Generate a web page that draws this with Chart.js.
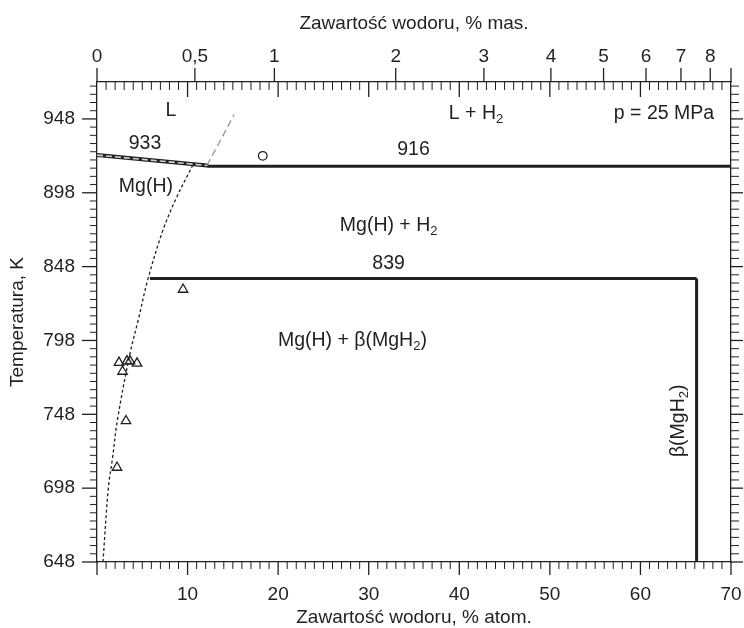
<!DOCTYPE html>
<html lang="pl">
<head>
<meta charset="utf-8">
<title>Układ Mg-H</title>
<style>
  body { margin: 0; background: #fff; }
  #wrap { width: 744px; height: 628px; position: relative; }
</style>
</head>
<body>
<div id="wrap"><canvas id="phaseChart"></canvas></div>
<script src="https://cdn.jsdelivr.net/npm/chart.js"></script>
<script>
// tick labels
const tempTicks = [648, 698, 748, 798, 848, 898, 948];
const atomTicks = [0, 10, 20, 30, 40, 50, 60, 70];
const massTicks = [0, 0.5, 1, 2, 3, 4, 5, 6, 7, 8];
const massLabels = ['0', '0,5', '1', '2', '3', '4', '5', '6', '7', '8'];

// phase boundaries (x = % atom. H, y = K)
const liqX = [0, 12.15];
const liqT = [923.5, 916.5];
const gasX = [12.15, 15.15];
const gasT = [916.5, 951];
const eut916X = [12.15, 70];
const eut916T = [916, 916];
const eut839X = [5.85, 66.2];
const eut839T = [840, 840];
const hydX = [66.2, 66.2];
const hydT = [840, 648];
const solvusX = [0.66, 1.25, 1.73, 2.25, 3.6, 4.56, 5.6, 7.3, 8.8, 10.1, 10.6];
const solvusT = [648, 698, 719, 744, 788, 812, 839, 873, 895, 911, 917];

// measured points
const triX = [2.43, 3.31, 3.64, 4.42, 2.82, 3.20, 2.21, 9.50];
const triT = [783, 784, 784, 782.5, 777, 743.5, 712, 832.5];
const circX = [18.3];
const circT = [923];

const regionLabels = [
  { text: 'L', x: 8.15, y: 953.5 },
  { text: '933', x: 5.3, y: 931.5 },
  { text: 'Mg(H)', x: 5.4, y: 902 },
  { text: 'L + H_2', x: 41.85, y: 951.8 },
  { text: 'p = 25 MPa', x: 62.6, y: 951.8 },
  { text: '916', x: 34.95, y: 927 },
  { text: 'Mg(H) + H_2', x: 32.2, y: 875.6 },
  { text: '839', x: 32.2, y: 850 },
  { text: 'Mg(H) + β(MgH_2)', x: 28.2, y: 797.8 },
  { text: 'β(MgH_2)', x: 64.2, y: 743.6, vertical: true }
];

const ink = '#231f20';
const fontFamily = '"Liberation Sans", Arial, Helvetica, sans-serif';

// % mas. -> % atom. (Mg 24.305, H 1.008)
function massToAtom(w) {
  const h = w / 1.008, m = (100 - w) / 24.305;
  return 100 * h / (h + m);
}

const pts = (xs, ys) => xs.map((v, i) => ({ x: v, y: ys[i] }));

function lineSet(xs, ys, opts) {
  return Object.assign({
    data: pts(xs, ys), showLine: true, pointRadius: 0, borderColor: ink,
    borderWidth: 3, xAxisID: 'x', yAxisID: 'y', tension: 0
  }, opts);
}

// draw "H_2" style text with subscripts, centred on (0,0)
function drawRich(ctx, str) {
  const parts = str.split(/_(\d)/);
  const big = '19.5px ' + fontFamily, small = '13px ' + fontFamily;
  let total = 0;
  parts.forEach((p, i) => { ctx.font = i % 2 ? small : big; total += ctx.measureText(p).width; });
  let cx = -total / 2;
  ctx.textAlign = 'left';
  ctx.textBaseline = 'middle';
  parts.forEach((p, i) => {
    ctx.font = i % 2 ? small : big;
    ctx.fillText(p, cx, i % 2 ? 6 : 0);
    cx += ctx.measureText(p).width;
  });
}

const labelsPlugin = {
  id: 'regionLabels',
  afterDatasetsDraw(chart) {
    const { ctx, scales } = chart;
    ctx.save();
    ctx.fillStyle = ink;
    regionLabels.forEach(l => {
      ctx.save();
      ctx.translate(scales.x.getPixelForValue(l.x), scales.y.getPixelForValue(l.y));
      if (l.vertical) ctx.rotate(-Math.PI / 2);
      drawRich(ctx, l.text);
      ctx.restore();
    });
    ctx.restore();
  }
};

// minor / major tick marks on all four sides
const tickMarks = {
  id: 'tickMarks',
  afterDraw(chart) {
    const { ctx, chartArea: a, scales } = chart;
    const sx = scales.x, sy = scales.y;
    ctx.save();
    ctx.strokeStyle = ink;
    const seg = (x1, y1, x2, y2, w) => {
      ctx.lineWidth = w; ctx.beginPath(); ctx.moveTo(x1, y1); ctx.lineTo(x2, y2); ctx.stroke();
    };
    for (let v = 0; v <= 70; v++) {
      const px = sx.getPixelForValue(v);
      const major = v % 10 === 0;
      seg(px, a.bottom, px, a.bottom + (major ? 13 : 7), major ? 1.3 : 1);
      if (v > 0 && v < 70) seg(px, a.top, px, a.top + (major ? 15 : 8), major ? 1.3 : 1);
    }
    massTicks.forEach(w => {
      const px = sx.getPixelForValue(massToAtom(w));
      seg(px, a.top, px, a.top - 14, 1.3);
    });
    seg(a.right, a.top, a.right, a.top - 14, 1.3);
    for (let k = 0; ; k++) {
      const t = 648 + k * 50 / 9;
      if (t > sy.max) break;
      const py = sy.getPixelForValue(t);
      const major = k % 9 === 0;
      seg(a.left, py, a.left - (major ? 15 : 7), py, major ? 1.3 : 1);
      seg(a.right, py, a.right + (major ? 12 : 8), py, major ? 1.3 : 1);
    }
    ctx.restore();
  }
};

const tickFont = { family: fontFamily, size: 19 };
const border = { display: true, color: ink, width: 1.3 };
const noSidePad = s => { s.paddingLeft = 0; s.paddingRight = 0; };

new Chart(document.getElementById('phaseChart'), {
  type: 'scatter',
  data: {
    // first dataset is painted on top
    datasets: [
      lineSet(liqX, liqT, { borderWidth: 1.6, borderColor: '#d0d0d0', borderDash: [6, 3] }),
      lineSet(liqX, liqT, { borderWidth: 4 }),
      lineSet(gasX, gasT, { borderWidth: 1.4, borderColor: '#9a9a9a', borderDash: [7, 4] }),
      lineSet(eut916X, eut916T),
      lineSet(eut839X, eut839T),
      lineSet(hydX, hydT),
      lineSet(solvusX, solvusT, { borderWidth: 1.3, borderDash: [3, 2.5], tension: 0.35 }),
      {
        data: pts(triX, triT), showLine: false, pointStyle: 'triangle', pointRadius: 5.5,
        borderColor: ink, backgroundColor: 'rgba(0,0,0,0)', pointBorderWidth: 1.3,
        xAxisID: 'x', yAxisID: 'y'
      },
      {
        data: pts(circX, circT), showLine: false, pointStyle: 'circle', pointRadius: 4.3,
        borderColor: ink, backgroundColor: 'rgba(0,0,0,0)', pointBorderWidth: 1.3,
        xAxisID: 'x', yAxisID: 'y'
      }
    ]
  },
  options: {
    responsive: true,
    maintainAspectRatio: false,
    animation: false,
    layout: { padding: 0 },
    plugins: { legend: { display: false }, tooltip: { enabled: false } },
    scales: {
      x: {
        type: 'linear', position: 'bottom', min: 0, max: 70,
        afterBuildTicks: s => { s.ticks = atomTicks.map(v => ({ value: v })); },
        afterFit: s => { s.height = 66; noSidePad(s); },
        grid: { display: false }, border,
        ticks: { font: tickFont, color: ink, padding: 13, maxRotation: 0, autoSkip: false,
          callback: v => (v === 0 ? '' : v) },
        title: { display: true, text: 'Zawartość wodoru, % atom.', font: tickFont, color: ink,
          padding: { top: 0, bottom: -1 } }
      },
      x2: {
        type: 'linear', position: 'top', min: 0, max: 70,
        afterBuildTicks: s => { s.ticks = massTicks.map(w => ({ value: massToAtom(w) })); },
        afterFit: s => { s.height = 82; noSidePad(s); },
        grid: { display: false }, border,
        ticks: { font: tickFont, color: ink, padding: 6, maxRotation: 0, autoSkip: false,
          callback: (v, i) => massLabels[i] },
        title: { display: true, text: 'Zawartość wodoru, % mas.', font: tickFont, color: ink,
          padding: { top: 12, bottom: 0 } }
      },
      y: {
        type: 'linear', position: 'left', min: 648, max: 973,
        afterBuildTicks: s => { s.ticks = tempTicks.map(v => ({ value: v })); },
        afterFit: s => { s.width = 97; },
        grid: { display: false }, border,
        ticks: { font: tickFont, color: ink, padding: 14 },
        title: { display: true, text: 'Temperatura, K', font: tickFont, color: ink,
          padding: { top: 6, bottom: 0 } }
      },
      y2: {
        type: 'linear', position: 'right', min: 648, max: 973,
        afterFit: s => { s.width = 13; },
        grid: { display: false }, border,
        ticks: { display: false }
      }
    }
  },
  plugins: [labelsPlugin, tickMarks]
});
</script>
</body>
</html>
